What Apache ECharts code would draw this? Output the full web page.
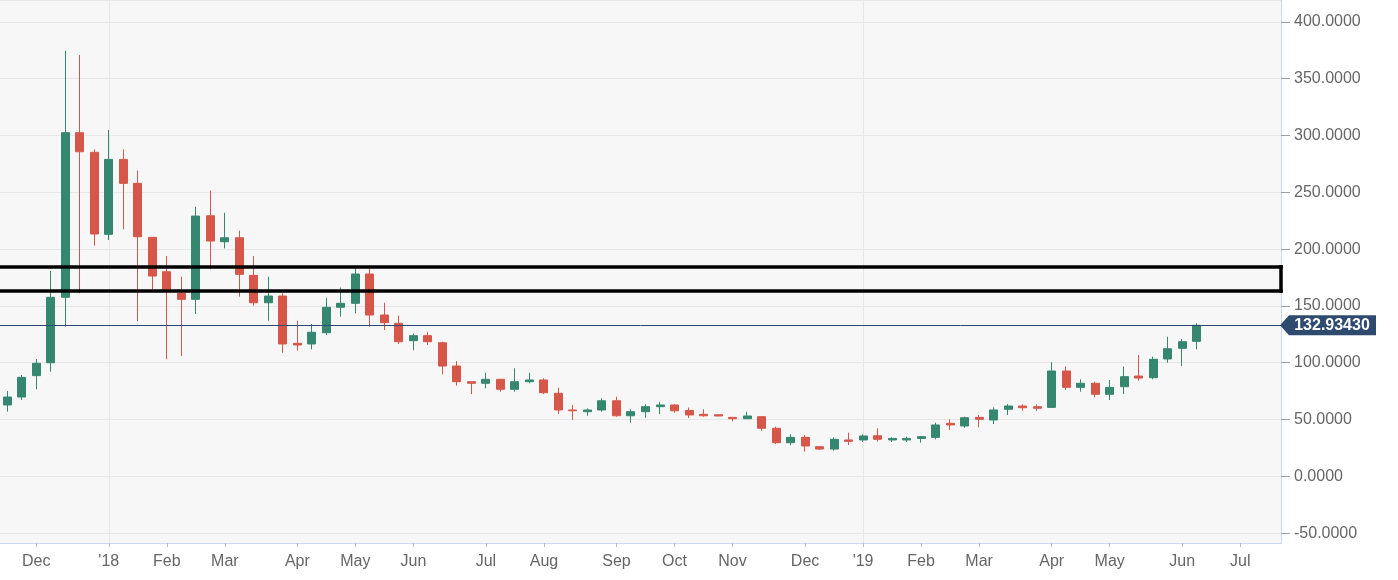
<!DOCTYPE html>
<html>
<head>
<meta charset="utf-8">
<script src="https://cdn.jsdelivr.net/npm/echarts@6/dist/echarts.min.js"></script>
<style>
html,body{margin:0;padding:0;background:#ffffff;}
#chart{width:1398px;height:580px;}
</style>
</head>
<body>
<div id="chart"></div>
<script>
// Weekly candles (week index 0 = 2017-11-17, one candle per week, Fridays)
const weekIndex = Array.from({length: 83}, (_, i) => i);
const opens = [62.8,69.8,88.6,100.0,157.6,302.5,285.2,213.0,279.0,257.9,
  210.4,180.1,161.1,155.8,229.4,206.5,210.0,176.9,152.8,158.7,
  117.1,116.5,126.4,148.8,152.3,178.1,142.0,134.7,119.4,123.8,
  117.6,97.1,83.3,81.9,85.4,76.6,83.3,84.8,73.1,58.4,
  56.9,58.4,66.5,53.3,56.9,61.3,62.8,58.0,54.6,54.2,
  51.9,50.7,52.5,42.3,29.6,34.3,26.1,24.0,32.0,32.0,
  35.7,32.0,32.0,33.4,34.3,46.7,44.3,51.9,49.6,59.0,
  61.9,61.3,60.7,92.7,78.3,81.9,72.2,78.9,88.3,86.8,
  103.3,112.7,118.8];
const closes = [69.8,87.1,99.5,157.6,302.5,285.7,213.3,279.0,257.9,210.9,
  176.3,164.6,155.8,229.1,207.1,210.0,177.8,152.8,158.7,116.5,
  115.6,126.8,148.8,152.3,178.1,142.0,135.2,118.5,123.8,118.5,
  97.1,83.3,81.9,85.4,76.6,83.3,84.8,73.6,58.4,57.7,
  58.4,66.5,53.3,56.9,61.3,62.8,57.7,54.0,53.3,53.1,
  50.7,53.1,42.3,29.6,34.3,26.7,24.0,32.6,30.8,35.5,
  32.6,33.4,33.4,34.9,45.2,45.2,51.6,50.2,58.4,61.9,
  60.4,59.9,92.7,78.3,81.9,72.2,78.3,87.7,86.5,103.0,
  112.3,118.5,132.9343];
const lows = [56.9,67.2,76.6,92.1,131.7,161.1,203.0,208.0,217.4,136.7,
  164.6,103.0,105.9,142.9,182.2,200.7,158.1,150.2,137.0,108.8,
  110.6,111.8,124.4,140.5,143.5,131.7,128.8,116.5,111.0,115.6,
  89.8,79.8,72.4,77.5,74.5,74.5,81.9,72.4,54.8,49.6,
  53.3,56.9,52.5,47.2,51.6,54.8,56.0,51.4,52.5,52.8,
  48.4,50.5,40.1,28.4,27.3,21.7,23.2,22.5,27.6,30.2,
  30.5,30.2,30.2,29.6,32.6,40.8,42.8,43.1,46.0,54.0,
  57.7,57.5,60.5,76.0,74.5,69.5,67.2,72.4,84.2,85.4,
  100.0,97.1,111.8];
const highs = [75.1,89.2,103.3,180.7,374.6,370.9,287.8,304.8,287.8,269.0,
  210.4,193.9,175.7,237.3,251.5,232.0,216.2,193.9,175.7,161.1,
  137.0,134.1,157.2,166.2,183.1,183.1,152.8,141.4,125.6,127.3,
  118.5,101.5,83.3,91.2,85.4,95.1,91.2,86.3,78.0,62.8,
  59.9,68.7,70.1,59.0,63.4,65.7,63.6,60.5,59.0,54.5,
  52.0,56.9,52.5,43.7,37.0,36.4,26.7,34.3,38.4,37.0,
  42.3,34.3,34.9,35.5,47.2,50.2,52.5,54.0,60.7,63.6,
  63.4,63.4,100.4,96.5,85.4,83.3,84.8,96.5,106.8,105.3,
  122.9,120.9,134.7];

// Month ticks (week index of the first candle of each month) and their labels
const tickWeeks = [2,7,11,15,20,24,28,33,37,42,46,50,55,59,63,67,72,76,81,85];
const tickLabels = ['Dec',"'18",'Feb','Mar','Apr','May','Jun','Jul','Aug','Sep','Oct','Nov','Dec',"'19",'Feb','Mar','Apr','May','Jun','Jul'];
const yearWeeks = [7, 59];

// Horizontal levels
const lastPrice = 132.9343;
const zoneTop = 184.5;
const zoneBottom = 163.1;

// Axis ranges
const xMin = -0.5, xMax = 87.81;
const yMin = -58.7, yMax = 419.3;

const GREEN = '#35876f', RED = '#d6574a', NAVY = '#2e4a6e';
const FONT = 'Liberation Sans, Arial, sans-serif';

const candleData = weekIndex.map(i => [i, opens[i], closes[i], lows[i], highs[i]]);

const chart = echarts.init(document.getElementById('chart'), null, {renderer: 'canvas'});
chart.setOption({
  animation: false,
  backgroundColor: '#ffffff',
  grid: {left: 0, top: 0, right: 117, bottom: 37, show: true, backgroundColor: '#f7f7f7', borderWidth: 0},
  xAxis: {
    type: 'value', min: xMin, max: xMax,
    axisLine: {show: true, onZero: false, lineStyle: {color: '#ccd6eb', width: 1}},
    axisTick: {show: true, customValues: tickWeeks, length: 4, lineStyle: {color: '#b8b8b8'}},
    axisLabel: {
      customValues: tickWeeks, margin: 11, color: '#666666', fontSize: 16, fontFamily: FONT,
      formatter: v => { const k = tickWeeks.indexOf(Math.round(v)); return k >= 0 ? tickLabels[k] : ''; }
    },
    splitLine: {show: false}
  },
  yAxis: {
    type: 'value', position: 'right', min: yMin, max: yMax,
    splitNumber: 9, minInterval: 50, maxInterval: 50,
    axisLine: {show: true, onZero: false, lineStyle: {color: '#ccd6eb', width: 1}},
    axisTick: {show: true, length: 9, lineStyle: {color: '#a0a0a0'}},
    axisLabel: {showMinLabel: false, showMaxLabel: false, margin: 13, color: '#666666', fontSize: 16, fontFamily: FONT,
      formatter: v => v.toFixed(4)},
    splitLine: {show: true, lineStyle: {color: '#e6e6e6', width: 1}}
  },
  series: [
    {
      type: 'line', data: [], z: 1, silent: true,
      markLine: {
        z: 1, silent: true, symbol: ['none', 'none'], label: {show: false},
        lineStyle: {color: '#e6e6e6', width: 1, type: 'solid'},
        data: yearWeeks.map(w => ({xAxis: w}))
      }
    },
    {
      type: 'candlestick', clip: false, barWidth: 8.5,
      encode: {x: 0, y: [1, 2, 3, 4]},
      data: candleData,
      itemStyle: {color: GREEN, color0: RED, borderColor: GREEN, borderColor0: RED, borderWidth: 1},
      markLine: {
        silent: true, symbol: ['none', 'none'], label: {show: false}, animation: false,
        data: [
          {yAxis: lastPrice, lineStyle: {color: NAVY, width: 1, type: 'solid'}},
          {yAxis: zoneTop, lineStyle: {color: '#000000', width: 3.5, type: 'solid', cap: 'square'}},
          {yAxis: zoneBottom, lineStyle: {color: '#000000', width: 3.5, type: 'solid', cap: 'square'}},
          [{coord: [xMax, zoneBottom], lineStyle: {color: '#000000', width: 3.5, type: 'solid', cap: 'square'}},
           {coord: [xMax, zoneTop]}]
        ]
      },
      markPoint: {
        silent: true,
        data: [{
          coord: [xMax, lastPrice],
          symbol: 'path://M0,10L9,0L96,0L96,20L9,20Z',
          symbolSize: [96, 20], symbolKeepAspect: false, symbolOffset: [47, 0],
          itemStyle: {color: NAVY},
          label: {show: true, position: 'inside', offset: [4, 0], formatter: lastPrice.toFixed(5),
            color: '#ffffff', fontWeight: 'bold', fontSize: 16, fontFamily: FONT}
        }]
      }
    }
  ]
});
</script>
</body>
</html>
